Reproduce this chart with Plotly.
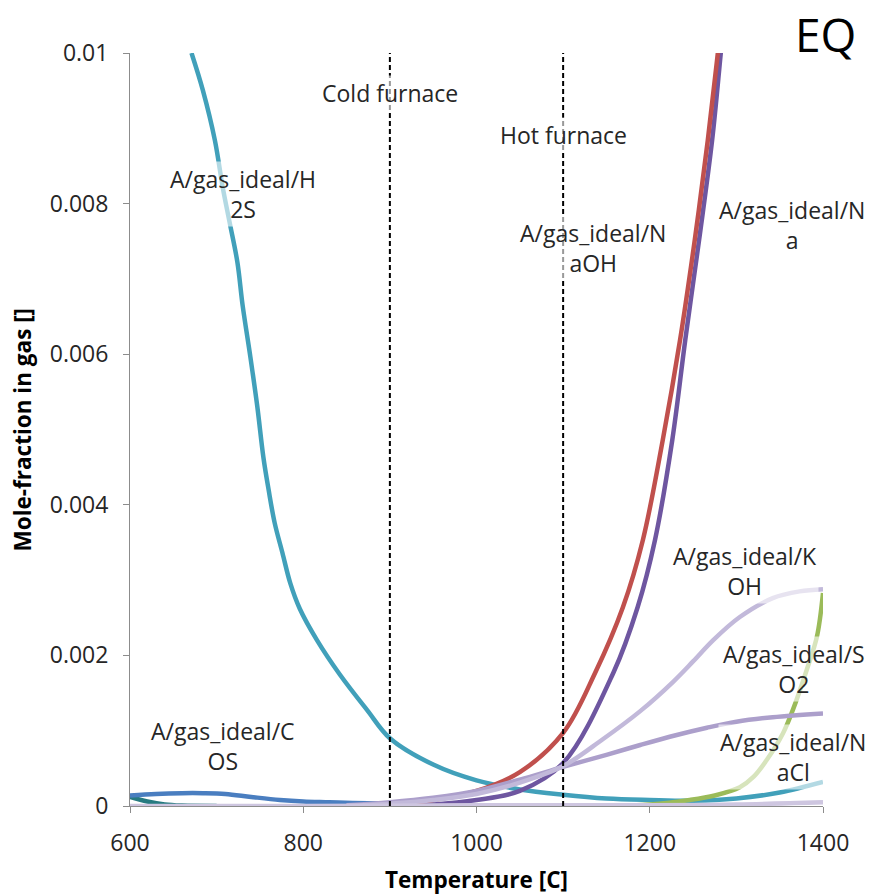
import plotly.graph_objects as go

# ---------------- data ----------------
T_H2S = [671, 684, 698, 707, 715, 724, 730, 739, 747, 754, 760, 767, 776, 785, 796, 816, 842, 874, 900,
         950, 1000, 1050, 1100, 1150, 1200, 1250, 1300, 1350, 1400]
H2S = [0.0100, 0.00951, 0.00884, 0.00822, 0.00775, 0.00722, 0.00665, 0.00596, 0.0053, 0.00463, 0.0042, 0.00376,
       0.00336, 0.00296, 0.00262, 0.0022, 0.00175, 0.00127, 0.00090,
       0.00055, 0.00034, 0.00022, 0.00015, 0.00010, 0.00008, 0.00007, 0.00010, 0.00018, 0.00032]

T_NaOH = [850, 900, 950, 1000, 1050, 1100, 1137, 1169, 1192, 1215, 1235, 1252, 1267, 1279, 1290]
NaOH = [0.0, 0.00002, 0.00008, 0.0002, 0.00045, 0.00097, 0.00177, 0.00264, 0.00353, 0.00486, 0.00619, 0.00752, 0.00884, 0.01004, 0.0112]

T_Na = [900, 950, 1000, 1050, 1100, 1158, 1186, 1206, 1226, 1241, 1257, 1272, 1282, 1292]
Na = [0.0, 0.00002, 0.00008, 0.0002, 0.00057, 0.00177, 0.00264, 0.00353, 0.00486, 0.00619, 0.00752, 0.00884, 0.0100, 0.0112]

T_KOH = [850, 900, 950, 1000, 1050, 1100, 1145, 1189, 1227, 1250, 1273, 1304, 1342, 1373, 1400]
KOH = [0.0, 0.00003, 0.00008, 0.00016, 0.00031, 0.00053, 0.00088, 0.00126, 0.00165, 0.00192, 0.0022, 0.00251, 0.00276, 0.00285, 0.00288]

T_NaCl = [850, 900, 950, 1000, 1050, 1100, 1150, 1189, 1230, 1266, 1300, 1342, 1400]
NaCl = [0.00001, 0.00005, 0.00011, 0.00020, 0.00035, 0.00052, 0.00068, 0.00081, 0.00094, 0.00104, 0.00112, 0.00118, 0.00123]

T_SO2 = [1150, 1200, 1246, 1275, 1304, 1320, 1335, 1354, 1365, 1381, 1393, 1400]
SO2 = [0.0, 0.00002, 0.00008, 0.00014, 0.00025, 0.00039, 0.00061, 0.00097, 0.00127, 0.0018, 0.00225, 0.00283]

T_COS = [600, 630, 660, 684, 710, 740, 773, 800, 830, 857, 900, 950, 1000]
COS = [0.00014, 0.00016, 0.00017, 0.00017, 0.00016, 0.00012, 0.00008, 0.00006, 0.00005, 0.00004, 0.00003, 0.00002, 0.00001]

T_dark = [600, 620, 640, 660, 700]
dark = [0.00012, 0.00006, 0.00002, 0.000005, 0.0]

T_low = [600, 800, 1000, 1200, 1300, 1400]
low = [0.0, 0.0, 0.00001, 0.00001, 0.00002, 0.00005]

furnace_T = [900, 1100]
furnace_labels = ["Cold furnace", "Hot furnace"]

x_ticks = [600, 800, 1000, 1200, 1400]
y_ticks = [0, 0.002, 0.004, 0.006, 0.008, 0.01]
y_ticktext = ["0", "0.002", "0.004", "0.006", "0.008", "0.01"]

# ---------------- figure ----------------
FONT = "Open Sans"
TXT = 23
TITLE = 22.5
W, H = 874, 896
ML, MR, MT, MB = 130, 51, 53, 90
PW, PH = W - ML - MR, H - MT - MB
fig = go.Figure()

series = [
    (T_H2S, H2S, "#41A0BA", "A/gas_ideal/H2S"),
    (T_dark, dark, "#267A80", "dark"),
    (T_COS, COS, "#4A7EC0", "A/gas_ideal/COS"),
    (T_Na, Na, "#6E56A0", "A/gas_ideal/Na"),
    (T_NaOH, NaOH, "#C0504D", "A/gas_ideal/NaOH"),
    (T_SO2, SO2, "#9BBB59", "A/gas_ideal/SO2"),
    (T_NaCl, NaCl, "#AC9FCB", "A/gas_ideal/NaCl"),
    (T_KOH, KOH, "#C2B9DA", "A/gas_ideal/KOH"),
    (T_low, low, "#CEC6E0", "low"),
]
for xs, ys, col, name in series:
    fig.add_trace(go.Scatter(x=xs, y=ys, mode="lines", name=name,
                             line=dict(color=col, width=4.5, shape="spline", smoothing=1.0),
                             showlegend=False, hoverinfo="skip"))

for t in furnace_T:
    fig.add_trace(go.Scatter(x=[t, t], y=[0, 0.01], mode="lines", showlegend=False,
                             line=dict(color="black", width=2, dash="5px,3px"), hoverinfo="skip"))

# labels
labels = [
    (730, 0.00813, "A/gas_ideal/H<br>2S"),
    (1134, 0.00741, "A/gas_ideal/N<br>aOH"),
    (1364, 0.00772, "A/gas_ideal/N<br>a"),
    (1310, 0.00312, "A/gas_ideal/K<br>OH"),
    (1366, 0.00182, "A/gas_ideal/S<br>O2"),
    (1365, 0.00065, "A/gas_ideal/N<br>aCl"),
    (707, 0.00080, "A/gas_ideal/C<br>OS"),
]
for x, y, txt in labels:
    fig.add_annotation(x=x, y=y, text=txt, showarrow=False, xanchor="center", yanchor="middle",
                       font=dict(family=FONT, size=TXT, color="#262626"),
                       bgcolor="rgba(255,255,255,0.6)", borderpad=1)

furn_y = [0.00947, 0.00891]
for t, lab, yy in zip(furnace_T, furnace_labels, furn_y):
    fig.add_annotation(x=t, y=yy, text=lab, showarrow=False, xanchor="center", yanchor="middle",
                       font=dict(family=FONT, size=TXT, color="#262626"),
                       bgcolor="rgba(255,255,255,0.6)")

fig.add_annotation(xref="paper", yref="paper",
                   x=(825 - ML) / PW, y=1 + (MT - 34) / PH,
                   text="EQ", showarrow=False, xanchor="center", yanchor="middle",
                   font=dict(family=FONT, size=46, color="black"))

# y-axis title placed as rotated text in the left margin
fig.add_annotation(xref="paper", yref="paper",
                   x=(22 - ML) / PW, y=0.5, textangle=-90,
                   text="<b>Mole-fraction in gas []</b>", showarrow=False,
                   xanchor="center", yanchor="middle",
                   font=dict(family=FONT, size=TITLE, color="black"))

axis_common = dict(showgrid=False, zeroline=False, showline=True, linecolor="#8C8C8C", linewidth=1,
                   ticks="outside", ticklen=6, tickcolor="#8C8C8C", automargin=False,
                   tickfont=dict(family=FONT, size=TXT, color="#262626"))

fig.update_layout(
    width=W, height=H,
    margin=dict(l=ML, r=MR, t=MT, b=MB),
    plot_bgcolor="white", paper_bgcolor="white",
    xaxis=dict(range=[600, 1400], tickvals=x_ticks, ticklabelstandoff=10,
               title=dict(text="<b>Temperature [C]</b>", standoff=15,
                          font=dict(family=FONT, size=TITLE, color="black")),
               **axis_common),
    yaxis=dict(range=[0, 0.01], tickvals=y_ticks, ticktext=y_ticktext, ticklabelstandoff=10,
               **axis_common),
)

fig.write_html("out.html")
